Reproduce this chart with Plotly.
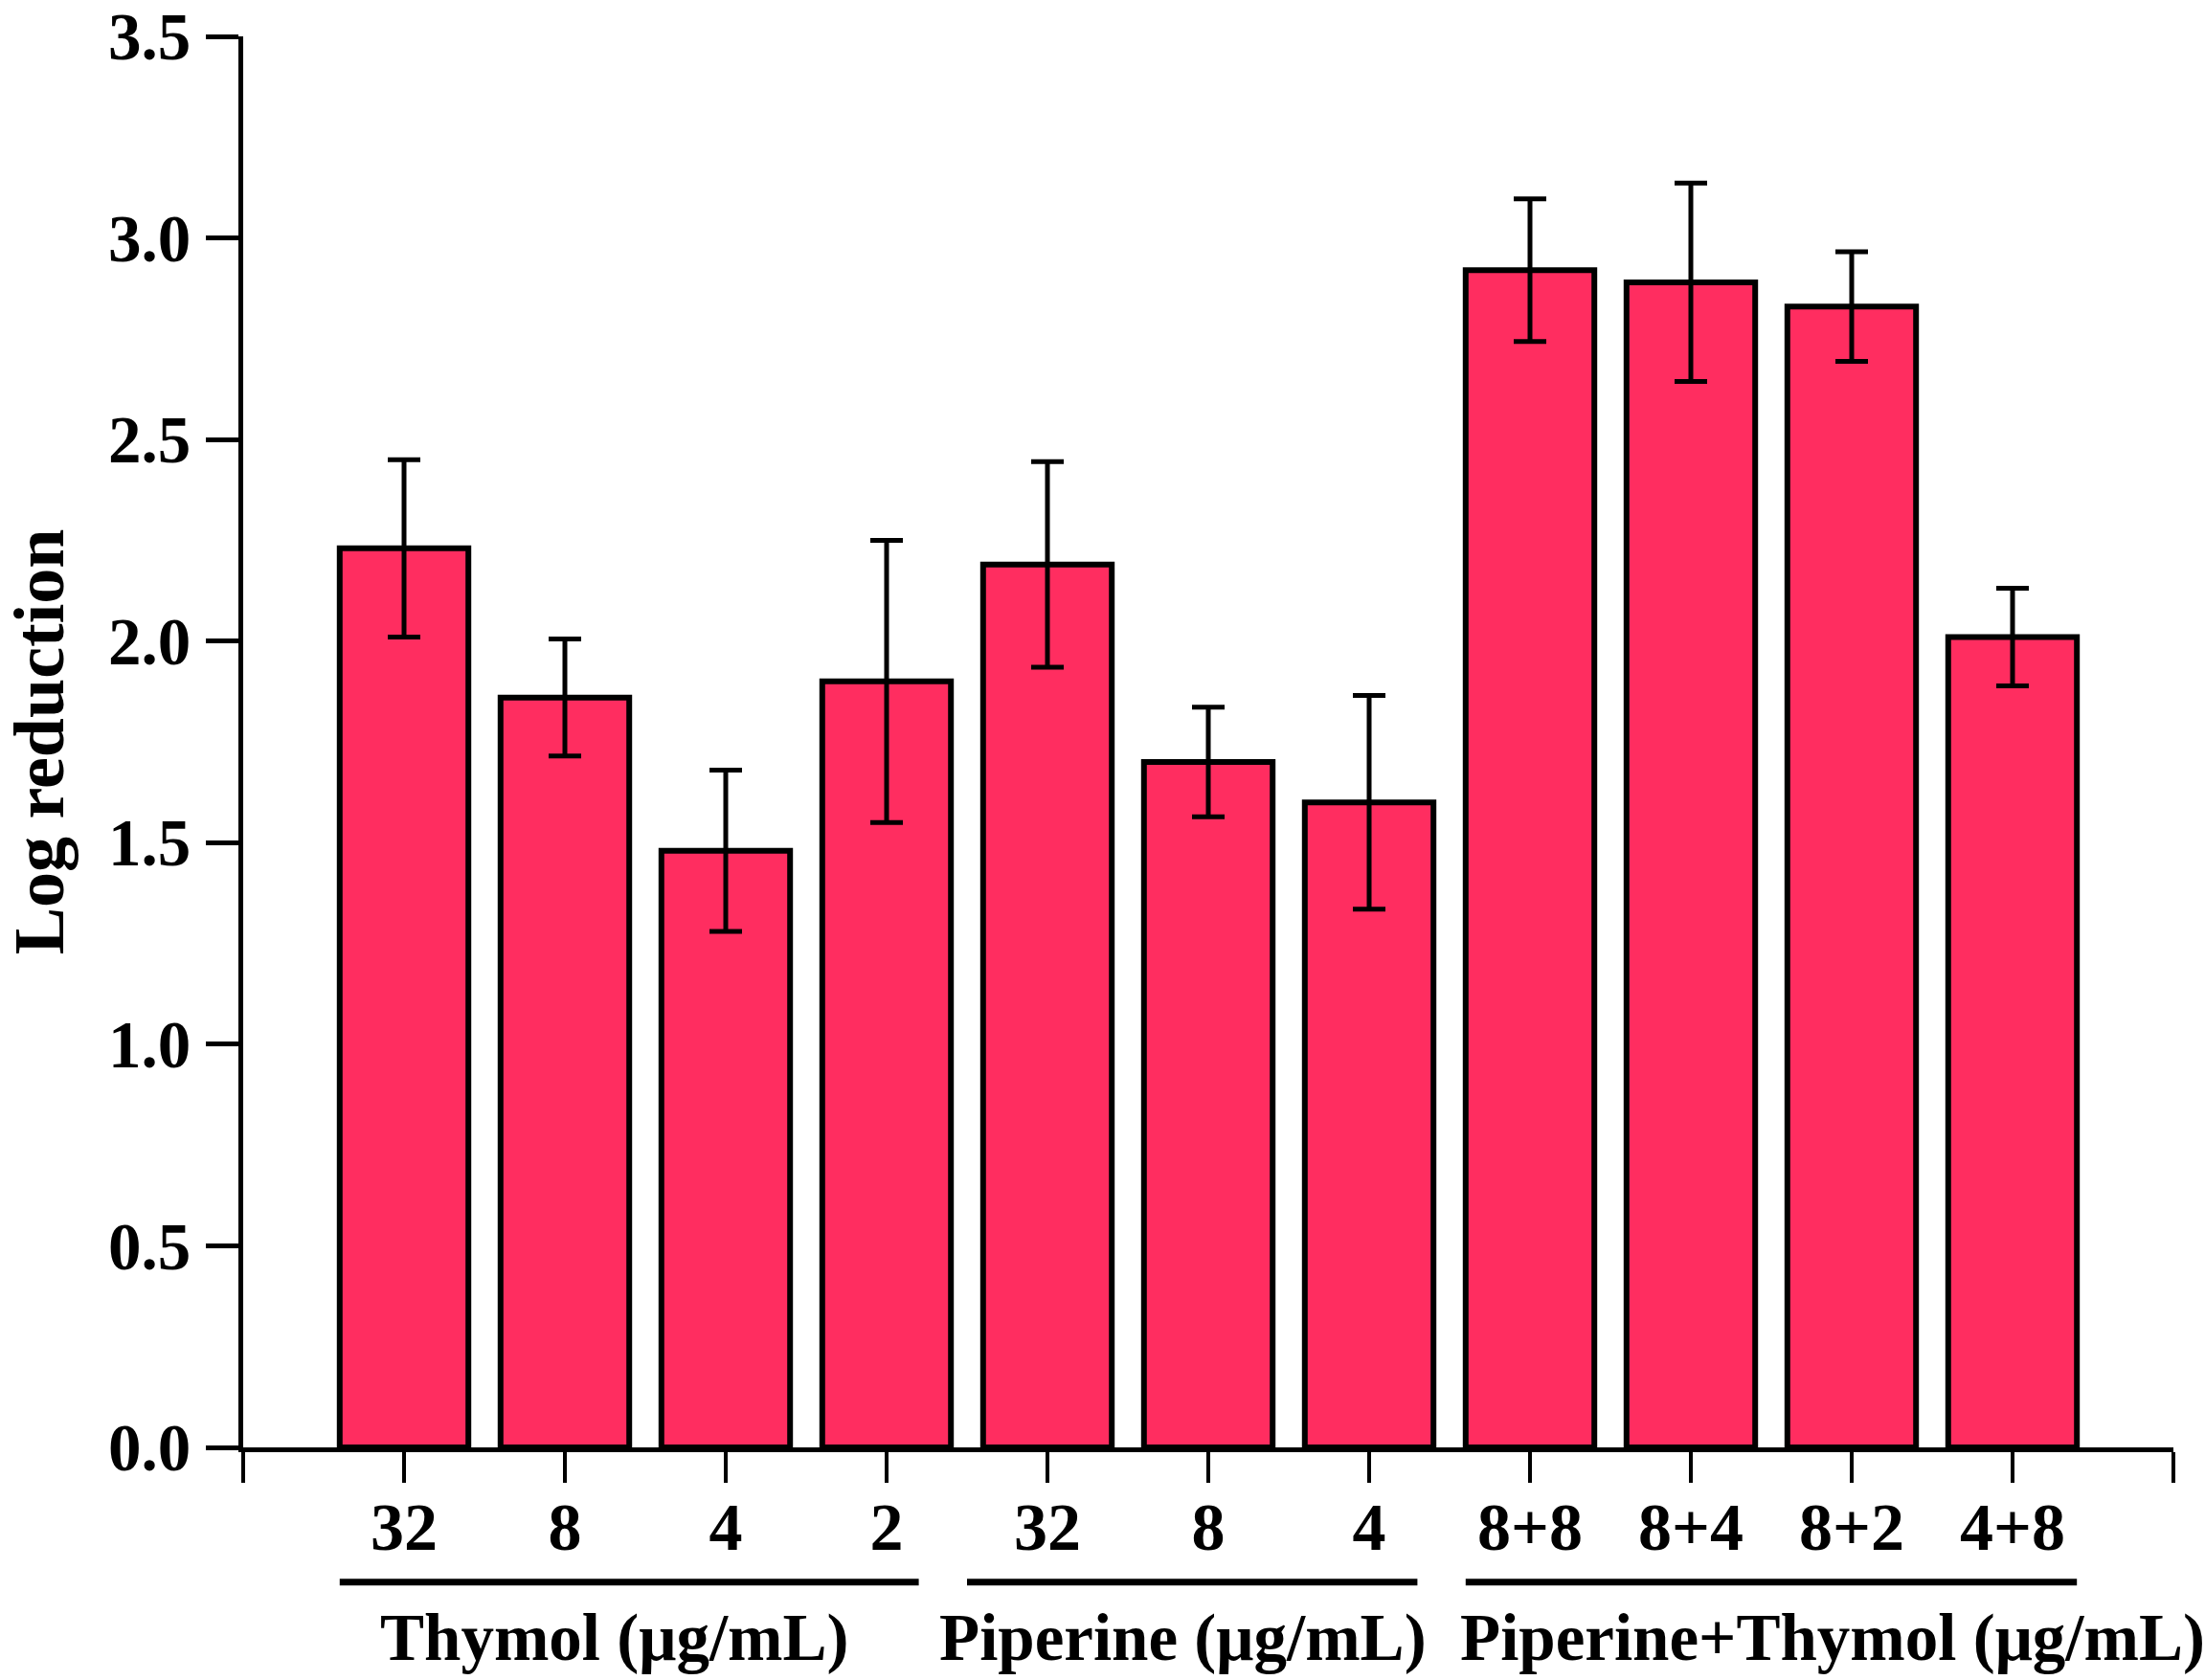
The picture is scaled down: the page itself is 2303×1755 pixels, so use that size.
import plotly.graph_objects as go

# data
categories = ['32', '8', '4', '2', '32', '8', '4', '8+8', '8+4', '8+2', '4+8']
log_reduction = [2.23, 1.86, 1.48, 1.90, 2.19, 1.70, 1.60, 2.92, 2.89, 2.83, 2.01]
sd = [0.22, 0.145, 0.20, 0.35, 0.255, 0.136, 0.265, 0.177, 0.246, 0.136, 0.121]
group_names = ['Thymol (μg/mL)', 'Piperine (μg/mL)', 'Piperine+Thymol (μg/mL)']
y_ticks = [0.0, 0.5, 1.0, 1.5, 2.0, 2.5, 3.0, 3.5]

# layout settings (not data)
bar_color = '#FF2D60'
font_family = 'Times New Roman, Liberation Serif, serif'
group_lines = [(0.6, 4.2), (4.5, 7.3), (7.6, 11.4)]
group_label_x = [2.31, 5.84, 9.88]

x_pos = list(range(1, len(categories) + 1))
tick_pos = list(range(0, len(categories) + 2))
tick_txt = [''] + categories + ['']

fig = go.Figure()
fig.add_trace(go.Bar(
    x=x_pos, y=log_reduction,
    width=0.8,
    marker=dict(color=bar_color, line=dict(color='black', width=6)),
    error_y=dict(type='data', array=sd, visible=True,
                 color='black', thickness=5, width=17),
    showlegend=False,
))

# horizontal lines grouping the categories
for (x0, x1) in group_lines:
    fig.add_shape(type='line', xref='x', yref='paper',
                  x0=x0, x1=x1, y0=-0.0955, y1=-0.0955,
                  line=dict(color='black', width=7))

for name, gx in zip(group_names, group_label_x):
    fig.add_annotation(x=gx, y=-0.135, xref='x', yref='paper',
                       text='<b>' + name + '</b>', showarrow=False,
                       yanchor='middle', xanchor='center',
                       font=dict(family=font_family, size=69, color='black'))

fig.update_xaxes(
    range=[0, len(categories) + 1], automargin=False,
    tickmode='array', tickvals=tick_pos, ticktext=tick_txt,
    showline=True, linecolor='black', linewidth=5,
    ticks='outside', ticklen=32, tickwidth=4, tickcolor='black',
    ticklabelstandoff=-14,
    tickfont=dict(family=font_family, size=70, color='black', weight='bold'),
    showgrid=False, zeroline=False,
)
fig.update_yaxes(
    range=[0, 3.5], automargin=False,
    tickmode='array', tickvals=y_ticks, tickformat='.1f',
    showline=True, linecolor='black', linewidth=5,
    ticks='outside', ticklen=34, tickwidth=5, tickcolor='black',
    ticklabelstandoff=2,
    tickfont=dict(family=font_family, size=69, color='black', weight='bold'),
    title=dict(text='<b>Log reduction</b>', standoff=58,
               font=dict(family=font_family, size=74, color='black')),
    showgrid=False, zeroline=False,
)

fig.update_layout(
    width=2303, height=1755,
    margin=dict(l=254, r=33, t=38, b=243),
    plot_bgcolor='white', paper_bgcolor='white',
    bargap=0.2,
)

# drop the default page margin so the figure sits at the window's corner
fig.write_html('out.html', config={'displayModeBar': False},
               post_script="document.body.style.margin='0';")
